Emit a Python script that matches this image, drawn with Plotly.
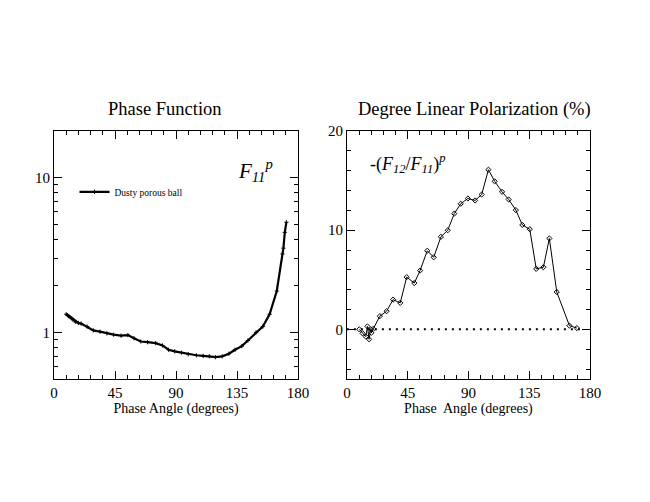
import plotly.graph_objects as go

# ---- data ----
f11_angle = [9, 10, 11, 12, 13, 14, 15, 16, 18, 20, 24.5, 29, 34, 39, 44, 49.5, 54.5, 59, 64, 69,
             75, 80, 84.5, 89, 94, 99, 105, 110, 114.5, 119, 124, 129, 133.5, 138.5, 143, 149,
             154, 159, 164.3, 168.5, 169.2, 170.2, 171.4]
f11_value = [1.31, 1.29, 1.27, 1.25, 1.23, 1.21, 1.19, 1.17, 1.15, 1.14, 1.09, 1.03, 1.01, 0.985,
             0.966, 0.952, 0.96, 0.916, 0.873, 0.864, 0.852, 0.823, 0.772, 0.754, 0.739, 0.722,
             0.711, 0.704, 0.701, 0.691, 0.70, 0.728, 0.772, 0.815, 0.886, 1.0, 1.09, 1.31,
             1.85, 3.21, 3.5, 4.43, 5.15]

pol_angle = [9.2, 11.6, 14, 15.2, 16.4, 17.6, 18.1, 19.5, 24.4, 29.4, 34.2, 39.5, 44.3, 49.9,
             54.2, 59.5, 64.3, 69.6, 74.7, 79.5, 84.3, 89.6, 94.9, 99.8, 104.8, 109.4, 114.9,
             119.8, 125.1, 129.9, 135.4, 140.2, 145.5, 149.9, 155.4, 164.8, 170.3]
pol_value = [0.0, -0.4, -0.73, 0.3, -1.0, 0.0, -0.35, 0.05, 1.33, 1.83, 3.0, 2.67, 5.27, 4.67,
             5.93, 7.93, 7.27, 9.33, 10.0, 11.67, 12.67, 13.2, 13.0, 13.6, 16.1, 14.93, 13.87,
             13.1, 12.03, 10.53, 10.1, 6.1, 6.27, 9.17, 3.77, 0.37, 0.13]

zero_x = [0, 175]
zero_y = [0, 0]

x_ticks = [0, 45, 90, 135, 180]
left_major = [1, 10]
left_minor = [0.5, 0.6, 0.7, 0.8, 0.9, 2, 3, 4, 5, 6, 7, 8, 9, 20]

FONT = "Liberation Serif"

fig = go.Figure()
fig.add_trace(go.Scatter(
    x=f11_angle, y=f11_value, mode="lines+markers", name="Dusty porous ball",
    line=dict(color="black", width=2.2), marker=dict(symbol="cross-thin", size=3,
    line=dict(color="black", width=1), color="black"),
    xaxis="x", yaxis="y", showlegend=True))
fig.add_trace(go.Scatter(
    x=zero_x, y=zero_y, mode="lines", line=dict(color="black", width=2, dash="2px,5px"),
    xaxis="x2", yaxis="y2", showlegend=False))
fig.add_trace(go.Scatter(
    x=pol_angle, y=pol_value, mode="lines+markers",
    line=dict(color="black", width=1), marker=dict(symbol="diamond-open", size=4,
    color="black", line=dict(color="black", width=1)),
    xaxis="x2", yaxis="y2", showlegend=False))

OFF = 8  # page body margin
W, H = 650 - 2 * OFF, 502 - 2 * OFF
def px(xv):
    return (xv - OFF) / W
def py(yv):
    return 1 - (yv - OFF) / H

common_x = dict(range=[0, 180], tickvals=x_ticks, ticks="inside", ticklen=8, tickwidth=1,
                tickcolor="black", showline=True, linecolor="black", linewidth=1, mirror="ticks",
                showgrid=False, zeroline=False, tickfont=dict(family=FONT, size=15, color="black"),
                minor=dict(dtick=9, tick0=0, ticks="inside", ticklen=4, tickcolor="black", showgrid=False))

fig.update_layout(
    width=W, height=H, margin=dict(l=0, r=0, t=0, b=0),
    paper_bgcolor="white", plot_bgcolor="white",
    xaxis=dict(domain=[px(51), px(301)], anchor="y", **common_x,
               title=dict(text="Phase Angle (degrees)", font=dict(family=FONT, size=14, color="black"), standoff=1)),
    yaxis=dict(domain=[py(377), py(125)], anchor="x", type="log",
               range=[-0.301, 1.301], tickvals=left_major, ticktext=["1", "10"],
               ticks="inside", ticklen=8, tickcolor="black", showline=True, linecolor="black",
               linewidth=1, mirror="ticks", showgrid=False, zeroline=False,
               tickfont=dict(family=FONT, size=15, color="black"),
               minor=dict(tickvals=left_minor, ticks="inside", ticklen=4, tickcolor="black", showgrid=False)),
    xaxis2=dict(domain=[px(351), px(600)], anchor="y2", **common_x,
                title=dict(text="Phase  Angle (degrees)", font=dict(family=FONT, size=14, color="black"), standoff=1)),
    yaxis2=dict(domain=[py(377), py(125)], anchor="x2", range=[-5, 20], dtick=10, tick0=0,
                ticks="inside", ticklen=8, tickcolor="black", showline=True, linecolor="black",
                linewidth=1, mirror="ticks", showgrid=False, zeroline=False,
                tickfont=dict(family=FONT, size=15, color="black"),
                minor=dict(dtick=2, ticks="inside", ticklen=4, tickcolor="black", showgrid=False)),
    legend=dict(x=px(72), y=py(172), xanchor="left", yanchor="top", bgcolor="rgba(0,0,0,0)",
                font=dict(family=FONT, size=9.5, color="black"), itemwidth=30),
    annotations=[
        dict(text="Phase Function", x=px(165), y=py(103), xref="paper", yref="paper",
             xanchor="center", yanchor="middle",
             showarrow=False, font=dict(family=FONT, size=18.5, color="black")),
        dict(text="Degree Linear Polarization (%)", x=px(482), y=py(103), xref="paper", yref="paper",
             xanchor="center", yanchor="middle",
             showarrow=False, font=dict(family=FONT, size=18.5, color="black")),
        dict(text="<i>F</i><sub><i>11</i></sub><sup><i>p</i></sup>", x=px(237), y=py(165),
             xref="paper", yref="paper", xanchor="left", yanchor="middle", showarrow=False,
             font=dict(family=FONT, size=21, color="black")),
        dict(text="-(<i>F</i><sub><i>12</i></sub>/<i>F</i><sub><i>11</i></sub>)<sup><i>p</i></sup>",
             x=px(373), y=py(158), xref="paper", yref="paper", xanchor="left", yanchor="middle",
             showarrow=False, font=dict(family=FONT, size=18, color="black")),
    ],
)

fig.write_html("out.html")
